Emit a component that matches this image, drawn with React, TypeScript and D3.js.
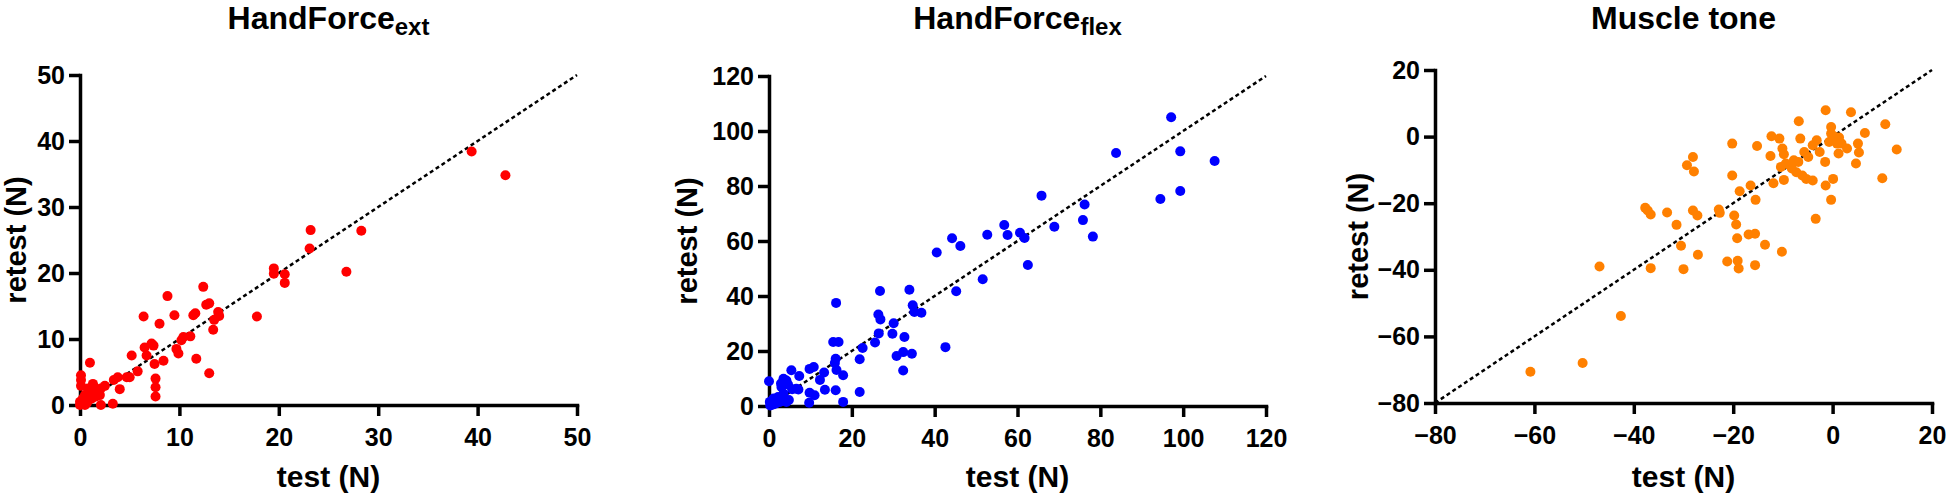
import { useEffect, useRef } from "react";
import * as d3 from "d3";

// [test, retest] pairs
const handForceExt = [
  [39.4, 38.4], [42.8, 34.8], [23.2, 26.5], [23.1, 23.7], [28.3, 26.4], [26.8, 20.2],
  [19.5, 20.7], [19.5, 19.9], [20.6, 19.8], [20.6, 18.5], [17.8, 13.4], [12.4, 17.9],
  [13.0, 15.4], [12.7, 15.2], [13.9, 14.1], [14.0, 13.5], [13.5, 12.9], [13.4, 11.4],
  [11.4, 13.6], [11.6, 13.9], [8.8, 16.5], [9.5, 13.6], [6.4, 13.4], [8.0, 12.3],
  [11.1, 10.4], [10.4, 10.3], [10.2, 9.8], [9.7, 8.5], [9.9, 7.8], [11.7, 7.0],
  [13.0, 4.8], [7.2, 9.3], [7.4, 9.0], [6.5, 8.7], [6.7, 7.5], [8.4, 6.7], [5.2, 7.5],
  [7.5, 6.2], [7.6, 4.0], [7.6, 2.7], [7.6, 1.3], [5.8, 5.1], [5.0, 4.2], [4.7, 4.2],
  [3.8, 4.2], [3.4, 3.8], [4.0, 2.4], [3.3, 0.2], [2.5, 2.9], [2.1, 2.5], [1.0, 6.4],
  [1.3, 3.2], [1.4, 2.8], [2.1, 0], [1.0, 2.0], [0.1, 4.5], [0.1, 3.8], [0.1, 2.9],
  [0, 0.5], [0.3, 1.0], [0.7, 0.3], [0.5, 1.5], [1.6, 1.3], [0.9, 0.8], [1.2, 1.0],
  [1.8, 1.8], [0, 0], [0.5, 0], [0.2, 0.2], [1.5, 2.2], [2.0, 1.5], [0.8, 2.5],
];

const handForceFlex = [
  [97.1, 105.0], [83.8, 92.0], [99.3, 92.6], [107.6, 89.1], [99.3, 78.2], [94.5, 75.3],
  [65.8, 76.5], [76.2, 73.3], [75.8, 67.6], [78.2, 61.6], [68.9, 65.2], [56.8, 65.8],
  [57.6, 62.2], [60.6, 63.0], [61.7, 61.1], [52.7, 62.3], [62.5, 51.3], [51.6, 46.1],
  [44.2, 61.0], [46.2, 58.2], [40.5, 55.8], [45.2, 41.7], [42.6, 21.4], [33.9, 42.3],
  [26.8, 41.8], [34.7, 36.6], [35.1, 34.2], [36.8, 33.9], [26.4, 33.3], [26.9, 31.5],
  [30.1, 30.1], [29.8, 26.3], [26.5, 26.4], [25.6, 23.1], [32.7, 25.1], [32.4, 19.6],
  [30.8, 18.2], [34.5, 19.0], [32.4, 12.9], [22.6, 21.1], [21.9, 17.0], [21.9, 5.1],
  [16.2, 37.5], [15.5, 23.3], [16.8, 23.3], [16.1, 17.2], [15.9, 15.6], [16.3, 13.1],
  [17.9, 11.2], [17.9, 1.5], [16.1, 5.7], [13.3, 12.2], [12.3, 9.5], [13.5, 5.9],
  [9.8, 13.5], [10.8, 14.2], [9.8, 4.8], [11.0, 3.9], [9.7, 1.2], [5.4, 13.0],
  [7.3, 10.9], [7.1, 6.0], [0, 9.0], [1.1, 2.7], [0.2, 1.5], [0.8, 0.5], [1.8, 2.1],
  [2.2, 3.3], [2.6, 1.5], [3.4, 2.7], [4.2, 1.5], [3.5, 4.5], [3.0, 6.9], [3.5, 9.9],
  [4.2, 9.3], [4.6, 7.8], [5.6, 6.1], [6.6, 6.3], [0.3, 0.2], [1.5, 0.8], [4.8, 2.2],
  [2.9, 8.2],
];

const muscleTone = [
  [-60.8, -70.6], [-50.3, -68.0], [-42.6, -53.9], [-46.9, -39.0], [-36.6, -39.5],
  [-37.7, -21.4], [-37.2, -22.2], [-36.6, -23.4], [-33.3, -22.8], [-31.4, -26.5],
  [-30.5, -32.8], [-30.0, -39.8], [-29.3, -8.6], [-28.1, -6.1], [-27.9, -10.5],
  [-28.1, -22.2], [-27.2, -23.7], [-27.1, -35.5], [-22.9, -21.9], [-22.7, -22.9],
  [-20.2, -2.1], [-20.2, -11.7], [-19.8, -23.7], [-19.4, -26.4], [-19.2, -30.5],
  [-21.2, -37.5], [-19.1, -37.3], [-18.9, -39.6], [-16.9, -29.4], [-15.6, -29.2],
  [-15.6, -38.6], [-13.6, -32.5], [-10.2, -34.6], [-18.7, -16.4], [-16.5, -14.7],
  [-15.5, -19.0], [-15.2, -2.8], [-12.3, 0.1], [-10.7, -0.6], [-12.5, -5.8],
  [-11.9, -14.0], [-10.1, -3.6], [-9.8, -5.3], [-10.4, -9.1], [-9.4, -8.1],
  [-8.6, -8.6], [-7.8, -7.1], [-8.2, -9.6], [-9.8, -13.0], [-6.9, -7.6], [-6.8, 4.6],
  [-6.5, -0.6], [-7.3, -10.7], [-6.1, -11.7], [-5.3, -12.7], [-4.0, -13.2],
  [-5.7, -4.6], [-4.9, -6.1], [-4.0, -2.6], [-3.2, -1.1], [-2.6, -4.6], [-1.5, -7.6],
  [-3.4, -24.7], [-1.4, 7.9], [-1.4, -14.7], [-0.3, 2.9], [-0.3, 0.9], [0.1, -1.1],
  [0.5, -0.1], [-0.7, -1.6], [0.9, -2.1], [1.3, -0.3], [0.1, -12.7], [-0.3, -19.0],
  [1.8, -2.1], [1.2, -5.1], [2.9, -3.6], [3.7, 7.3], [5.1, -2.1], [5.3, -4.8],
  [4.7, -8.1], [6.5, 1.1], [10.6, 3.7], [10.0, -12.5], [12.9, -3.9],
];

const extTicks = [0, 10, 20, 30, 40, 50];
const flexTicks = [0, 20, 40, 60, 80, 100, 120];
const toneTicks = [-80, -60, -40, -20, 0, 20];

const panels = [
  { title: "HandForce", sub: "ext", data: handForceExt, ticks: extTicks, color: "#ff0000",
    left: 80, right: 577, top: 75, bottom: 405, labelGap: 54 },
  { title: "HandForce", sub: "flex", data: handForceFlex, ticks: flexTicks, color: "#0000ff",
    left: 769, right: 1266, top: 76, bottom: 406, labelGap: 72 },
  { title: "Muscle tone", sub: "", data: muscleTone, ticks: toneTicks, color: "#ff8000",
    left: 1435, right: 1932, top: 70, bottom: 403, labelGap: 67 },
];

const FONT = "'Liberation Sans', Arial, Helvetica, sans-serif";

const Panel = ({ p }) => {
  const xRef = useRef();
  const yRef = useRef();
  const lo = p.ticks[0];
  const hi = p.ticks[p.ticks.length - 1];
  const x = d3.scaleLinear().domain([lo, hi]).range([p.left, p.right]);
  const y = d3.scaleLinear().domain([lo, hi]).range([p.bottom, p.top]);

  useEffect(() => {
    const style = (g) => {
      g.select(".domain").attr("stroke-width", 3.5).attr("stroke-linecap", "square");
      g.selectAll(".tick line").attr("stroke-width", 3.5);
      g.selectAll(".tick text")
        .attr("font-size", 25)
        .attr("font-weight", "bold")
        .attr("font-family", FONT)
        .attr("fill", "#000");
    };
    d3.select(xRef.current)
      .call(d3.axisBottom(x).tickValues(p.ticks).tickSize(11).tickSizeOuter(0).tickPadding(12).tickFormat(d3.format("d")))
      .call(style);
    d3.select(yRef.current)
      .call(d3.axisLeft(y).tickValues(p.ticks).tickSize(11).tickSizeOuter(0).tickPadding(4).tickFormat(d3.format("d")))
      .call(style);
  }, [p]);

  const line = d3.line().x((d) => x(d)).y((d) => y(d));
  const cx = (p.left + p.right) / 2;
  const cy = (p.top + p.bottom) / 2;

  return (
    <g>
      <text x={cx} y={29} textAnchor="middle" fontFamily={FONT} fontWeight="bold" fontSize={32}>
        {p.title}
        {p.sub && (
          <tspan fontSize={24} dy={6}>{p.sub}</tspan>
        )}
      </text>
      <g ref={xRef} transform={`translate(0,${p.bottom})`} />
      <g ref={yRef} transform={`translate(${p.left},0)`} />
      <path d={line([lo, hi])} stroke="#000" strokeWidth={2.5} strokeDasharray="4,3" fill="none" />
      {p.data.map((d, i) => (
        <circle key={i} cx={x(d[0])} cy={y(d[1])} r={5} fill={p.color} />
      ))}
      <text x={cx} y={487} textAnchor="middle" fontFamily={FONT} fontWeight="bold" fontSize={30}>
        test (N)
      </text>
      <text
        transform={`translate(${p.left - p.labelGap},${cy}) rotate(-90)`}
        textAnchor="middle"
        fontFamily={FONT}
        fontWeight="bold"
        fontSize={29}
      >
        retest (N)
      </text>
    </g>
  );
};

export default function App() {
  return (
    <svg
      width={1946}
      height={500}
      style={{ position: "absolute", left: 0, top: 0, background: "#fff" }}
    >
      {panels.map((p, i) => (
        <Panel key={i} p={p} />
      ))}
    </svg>
  );
}
